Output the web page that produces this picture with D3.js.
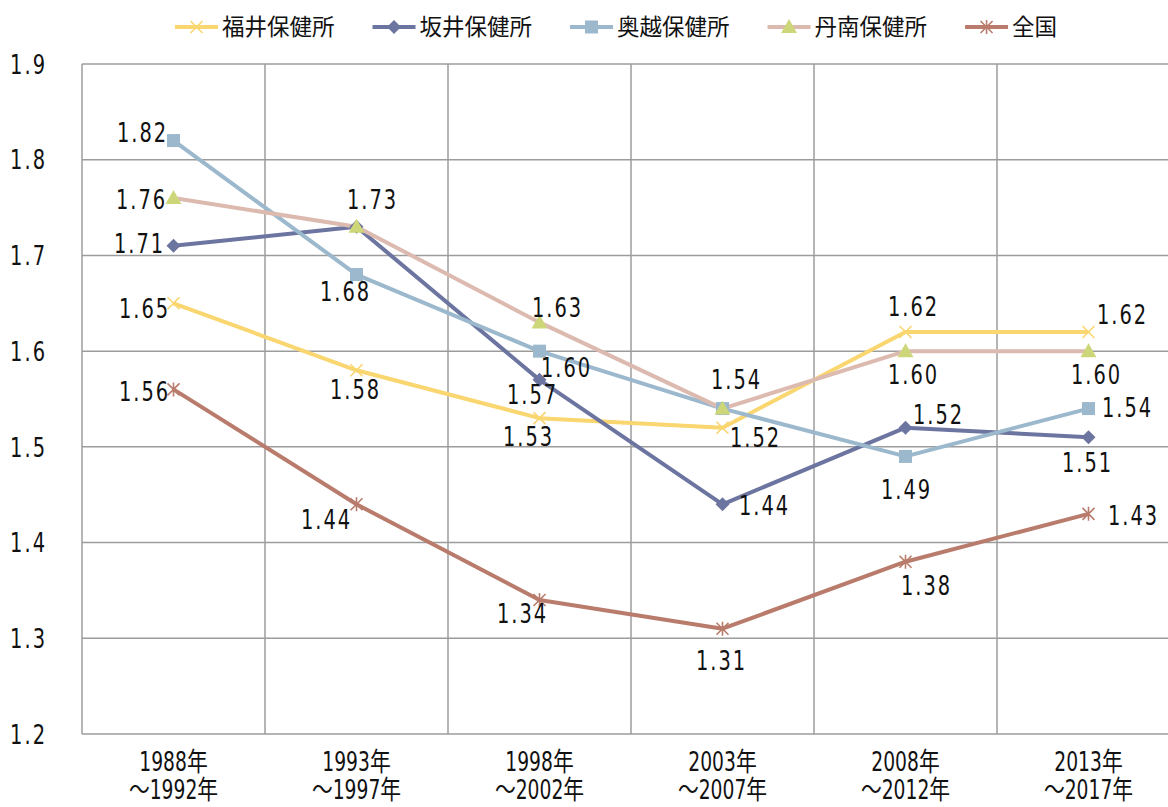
<!DOCTYPE html>
<html>
<head>
<meta charset="utf-8">
<script src="https://cdn.jsdelivr.net/npm/d3@7"></script>
<style>
  body { margin: 0; background: #fff; }
  svg { display: block; }
</style>
</head>
<body>
<div id="chart"></div>
<script>
// periods (two-line tick labels)
const periodStart = ['1988年', '1993年', '1998年', '2003年', '2008年', '2013年'];
const periodEnd = ['～1992年', '～1997年', '～2002年', '～2007年', '～2012年', '～2017年'];
const yTicks = [1.2, 1.3, 1.4, 1.5, 1.6, 1.7, 1.8, 1.9];

const seriesNames = ['福井保健所', '坂井保健所', '奥越保健所', '丹南保健所', '全国'];
const fukui = [1.65, 1.58, 1.53, 1.52, 1.62, 1.62];
const sakai = [1.71, 1.73, 1.57, 1.44, 1.52, 1.51];
const okuetsu = [1.82, 1.68, 1.60, 1.54, 1.49, 1.54];
const tannan = [1.76, 1.73, 1.63, 1.54, 1.60, 1.60];
const zenkoku = [1.56, 1.44, 1.34, 1.31, 1.38, 1.43];

// label centre offset from its marker, in px (null = label not shown)
const labelOffset = [
  [[-29, 5], [-1, 19], [-11, 18], [33, 10], [8, -26], [34, -18]],
  [[-34, -3], null, [-7, 14], [42, 1], [33, -13], [-1, 25]],
  [[-31, -8], [-11, 17], [27, 16], null, [1, 33], [39, -1]],
  [[-32, 1], [16, -27], [18, -15], [14, -29], [8, 23], [8, 23]],
  [[-29, 2], [-30, 15], [-17, 13], [-1, 32], [21, 24], [45, 1]],
];

const seriesValues = [fukui, sakai, okuetsu, tannan, zenkoku];
const styles = [
  { line: '#F9D66F', marker: '#F9D66F', shape: 'x' },
  { line: '#6C74A0', marker: '#6C74A0', shape: 'diamond' },
  { line: '#9BB8CD', marker: '#9BB8CD', shape: 'square' },
  { line: '#DCBAAF', marker: '#CDD77A', shape: 'triangle' },
  { line: '#B97C6C', marker: '#B97C6C', shape: 'asterisk' },
];

const width = 1168;
const height = 807;
const marginLeft = 82;
const plotRight = 1180; // plot runs past the picture's right edge
const plotTop = 64;
const plotBottom = 734;

const numFont = "'DejaVu Sans Condensed', 'Noto Sans CJK JP', sans-serif";
const cjkFont = "'Noto Sans CJK JP', sans-serif";
const squeeze = 0.8; // the original uses a tall narrow face

const x = d3.scaleBand(periodStart, [marginLeft, plotRight]);
const cx = (i) => x(periodStart[i]) + x.bandwidth() / 2;
const y = d3.scaleLinear([1.2, 1.9], [plotBottom, plotTop]);

const svg = d3
  .select('#chart')
  .append('svg')
  .attr('width', width)
  .attr('height', height)
  .attr('viewBox', [0, 0, width, height]);

function narrowText(g, tx, ty, str, anchor, spacing = 0, size = 27) {
  return g
    .append('text')
    .attr('transform', `translate(${tx},${ty}) scale(${squeeze},1)`)
    .attr('text-anchor', anchor)
    .attr('font-family', numFont)
    .attr('font-size', size)
    .attr('letter-spacing', spacing)
    .attr('fill', '#111')
    .text(str);
}

// grid
const grid = svg.append('g').attr('stroke', '#9c9c9c').attr('stroke-width', 1.5);
grid
  .selectAll('.h')
  .data(yTicks)
  .join('line')
  .attr('x1', marginLeft)
  .attr('x2', plotRight)
  .attr('y1', (d) => y(d))
  .attr('y2', (d) => y(d));
grid
  .selectAll('.v')
  .data(d3.range(periodStart.length + 1))
  .join('line')
  .attr('x1', (i) => marginLeft + i * x.bandwidth())
  .attr('x2', (i) => marginLeft + i * x.bandwidth())
  .attr('y1', plotTop)
  .attr('y2', plotBottom);

// y axis labels
const yl = svg.append('g');
yTicks.forEach((t) => {
  narrowText(yl, 47, y(t), t.toFixed(1), 'end', 2.5).attr('dy', '0.36em');
});

// x axis labels
const xl = svg.append('g');
periodStart.forEach((p, i) => {
  narrowText(xl, cx(i), 771, p, 'middle', 0, 26);
  narrowText(xl, cx(i), 799, periodEnd[i], 'middle', 0, 26);
});

function drawMarker(g, shape, color, px, py) {
  if (shape === 'square') {
    g.append('rect').attr('x', px - 6.5).attr('y', py - 6.5).attr('width', 13).attr('height', 13).attr('fill', color);
  } else if (shape === 'diamond') {
    g.append('path').attr('d', `M${px},${py - 7}L${px + 7},${py}L${px},${py + 7}L${px - 7},${py}Z`).attr('fill', color);
  } else if (shape === 'triangle') {
    g.append('path').attr('d', `M${px},${py - 8}L${px + 8},${py + 6}L${px - 8},${py + 6}Z`).attr('fill', color);
  } else if (shape === 'x') {
    g.append('path')
      .attr('d', `M${px - 6},${py - 6}L${px + 6},${py + 6}M${px - 6},${py + 6}L${px + 6},${py - 6}`)
      .attr('stroke', color).attr('stroke-width', 1.6).attr('fill', 'none');
  } else if (shape === 'asterisk') {
    g.append('path')
      .attr('d', `M${px - 6},${py - 6}L${px + 6},${py + 6}M${px - 6},${py + 6}L${px + 6},${py - 6}M${px},${py - 7}L${px},${py + 7}`)
      .attr('stroke', color).attr('stroke-width', 1.6).attr('fill', 'none');
  }
}

const line = d3
  .line()
  .x((d, i) => cx(i))
  .y((d) => y(d));

const body = svg.append('g');
seriesValues.forEach((vals, s) => {
  body
    .append('path')
    .attr('d', line(vals))
    .attr('fill', 'none')
    .attr('stroke', styles[s].line)
    .attr('stroke-width', 4)
    .attr('stroke-linejoin', 'round');
});
seriesValues.forEach((vals, s) => {
  const g = body.append('g');
  vals.forEach((v, i) => drawMarker(g, styles[s].shape, styles[s].marker, cx(i), y(v)));
});

// data labels
const labels = svg.append('g');
seriesValues.forEach((vals, s) => {
  vals.forEach((v, i) => {
    const off = labelOffset[s][i];
    if (!off) return;
    narrowText(labels, cx(i) + off[0], y(v) + off[1], v.toFixed(2), 'middle', 2.5).attr('dy', '0.36em');
  });
});

// legend
const legend = svg.append('g');
let lx = 175;
seriesNames.forEach((name, s) => {
  const g = legend.append('g');
  g.append('line')
    .attr('x1', lx).attr('x2', lx + 43)
    .attr('y1', 27).attr('y2', 27)
    .attr('stroke', styles[s].line).attr('stroke-width', 4);
  drawMarker(g, styles[s].shape, styles[s].marker, lx + 21.5, 27);
  const t = g.append('text')
    .attr('x', lx + 47)
    .attr('y', 27)
    .attr('dy', '0.36em')
    .attr('font-family', cjkFont)
    .attr('font-size', 22.5)
    .attr('fill', '#111')
    .text(name);
  lx += 47 + t.node().getComputedTextLength() + 38;
});
</script>
</body>
</html>
